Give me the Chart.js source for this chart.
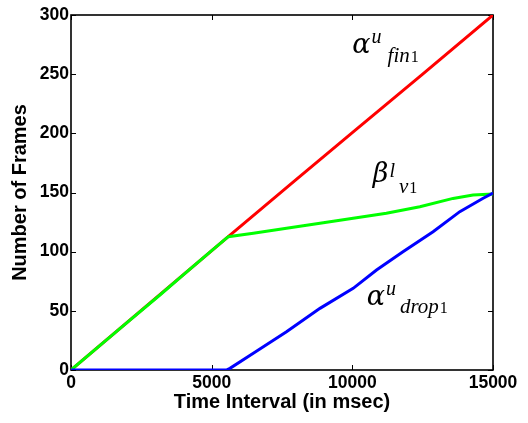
<!DOCTYPE html>
<html>
<head>
<meta charset="utf-8">
<script src="https://cdn.jsdelivr.net/npm/chart.js@4.4.0/dist/chart.umd.min.js"></script>
<style>
  html, body { margin: 0; padding: 0; background: #fff; }
  #wrap { width: 528px; height: 423px; }
</style>
</head>
<body>
<div id="wrap"><canvas id="framesChart" width="528" height="423"></canvas></div>
<script>
// ------------ DATA -------------
const xTicks = [0, 5000, 10000, 15000];
const yTicks = [0, 50, 100, 150, 200, 250, 300];

// alpha^u_fin1 (red)
const finTimes  = [0, 5590, 8000, 10000, 12500, 15000];
const finFrames = [0, 112.7, 160.8, 200.6, 250.1, 300];

// beta^l_v1 (green)
const vTimes  = [0, 1000, 2000, 3160, 4000, 5000, 5590, 6480, 7660, 8850, 10030, 11210, 12400, 13580, 14290, 15000];
const vFrames = [0, 20.2, 40.3, 63.4, 80.6, 100.8, 112.7, 115.5, 119.7, 124, 128.2, 132.4, 138, 145, 147.9, 148.7];

// alpha^u_drop1 (blue)
const dropTimes  = [0, 5520, 5650, 6480, 7660, 8850, 10030, 10860, 11800, 12870, 13820, 14650, 15000];
const dropFrames = [0, 0, 1.4, 14.1, 32.4, 52.1, 69, 84.5, 100, 116.9, 133.8, 145.1, 149.5];

// curve labels, anchored in data units
const curveLabels = [
    { x: 10000, y: 268, base: "α", sup: "u", sub: "fin",  subNum: "1", supDy: -10, subDy: 9,  supGap: 1, subGap: 6 },
    { x: 10730, y: 159, base: "β", sup: "l", sub: "v",    subNum: "1", supDy: -5,  subDy: 11, supGap: 1, subGap: 4 },
    { x: 10510, y: 55,  base: "α", sup: "u", sub: "drop", subNum: "1", supDy: -10, subDy: 8,  supGap: 1, subGap: 4 }
];

const toPoints = (xs, ys) => xs.map((x, i) => ({ x: x, y: ys[i] }));

const SANS = "'Liberation Sans', Arial, Helvetica, sans-serif";
const SERIF = "'Liberation Serif', 'Times New Roman', serif";
const GREEK = "'DejaVu Serif', 'Liberation Serif', serif";

// box around the plot with inward ticks, drawn under the curves
const boxPlugin = {
    id: "matlabBox",
    beforeDatasetsDraw(chart) {
        const { ctx, chartArea: a, scales } = chart;
        ctx.save();
        ctx.strokeStyle = "#000";
        ctx.lineWidth = 1;
        const tl = 5;
        ctx.beginPath();
        xTicks.forEach(v => {
            const px = Math.round(scales.x.getPixelForValue(v)) + 0.5;
            ctx.moveTo(px, a.bottom); ctx.lineTo(px, a.bottom - tl);
            ctx.moveTo(px, a.top); ctx.lineTo(px, a.top + tl);
        });
        yTicks.forEach(v => {
            const py = Math.round(scales.y.getPixelForValue(v)) + 0.5;
            ctx.moveTo(a.left, py); ctx.lineTo(a.left + tl, py);
            ctx.moveTo(a.right, py); ctx.lineTo(a.right - tl, py);
        });
        ctx.stroke();
        ctx.lineWidth = 1.6;
        ctx.strokeRect(a.left, a.top, a.right - a.left, a.bottom - a.top);
        ctx.restore();
    }
};

// math-style curve labels
const labelPlugin = {
    id: "curveLabels",
    afterDraw(chart) {
        const { ctx, scales } = chart;
        ctx.save();
        ctx.fillStyle = "#000";
        ctx.textBaseline = "alphabetic";
        ctx.textAlign = "left";
        curveLabels.forEach(l => {
            let px = scales.x.getPixelForValue(l.x);
            const py = scales.y.getPixelForValue(l.y);
            ctx.font = "italic 27px " + GREEK;
            ctx.fillText(l.base, px, py);
            px += ctx.measureText(l.base).width + l.supGap;
            ctx.font = "italic 20px " + SERIF;
            ctx.fillText(l.sup, px, py + l.supDy);
            px += ctx.measureText(l.sup).width + l.subGap;
            ctx.font = "italic 21px " + SERIF;
            ctx.fillText(l.sub, px, py + l.subDy);
            px += ctx.measureText(l.sub).width + 1;
            ctx.font = "16px " + SERIF;
            ctx.fillText(l.subNum, px, py + l.subDy);
        });
        ctx.restore();
    }
};

const ctx = document.getElementById("framesChart");

new Chart(ctx, {
    type: "line",
    data: {
        datasets: [
            {
                label: "drop",
                data: toPoints(dropTimes, dropFrames),
                borderColor: "#0000ff",
                borderWidth: 3,
                pointRadius: 0,
                fill: false,
                tension: 0
            },
            {
                label: "v1",
                data: toPoints(vTimes, vFrames),
                borderColor: "#00ff00",
                borderWidth: 3,
                pointRadius: 0,
                fill: false,
                tension: 0
            },
            {
                label: "fin",
                data: toPoints(finTimes, finFrames),
                borderColor: "#ff0000",
                borderWidth: 3,
                pointRadius: 0,
                fill: false,
                tension: 0
            }
        ]
    },
    options: {
        responsive: false,
        animation: false,
        layout: {
            padding: { left: 0, top: 15, right: 35, bottom: 0 }
        },
        plugins: {
            legend: { display: false },
            tooltip: { enabled: false }
        },
        scales: {
            x: {
                type: "linear",
                min: 0,
                max: 15000,
                afterBuildTicks: s => { s.ticks = xTicks.map(v => ({ value: v })); },
                ticks: {
                    color: "#000",
                    font: { family: SANS, size: 17.5, weight: "bold" },
                    padding: 3,
                    maxRotation: 0,
                    autoSkip: false,
                    callback: v => String(v)
                },
                grid: { display: false, drawTicks: false },
                border: { display: false },
                title: {
                    display: true,
                    text: "Time Interval (in msec)",
                    color: "#000",
                    font: { family: SANS, size: 20, weight: "bold" },
                    padding: { top: 0, bottom: 9 }
                },
                afterFit: s => { s.height = 53; }
            },
            y: {
                type: "linear",
                min: 0,
                max: 300,
                afterBuildTicks: s => { s.ticks = yTicks.map(v => ({ value: v })); },
                ticks: {
                    color: "#000",
                    font: { family: SANS, size: 17.5, weight: "bold" },
                    padding: 2,
                    autoSkip: false,
                    callback: v => String(v)
                },
                grid: { display: false, drawTicks: false },
                border: { display: false },
                title: {
                    display: true,
                    text: "Number of Frames",
                    color: "#000",
                    font: { family: SANS, size: 20, weight: "bold" },
                    padding: { top: 8, bottom: 0 }
                },
                afterFit: s => { s.width = 71; }
            }
        }
    },
    plugins: [boxPlugin, labelPlugin]
});
</script>
</body>
</html>
